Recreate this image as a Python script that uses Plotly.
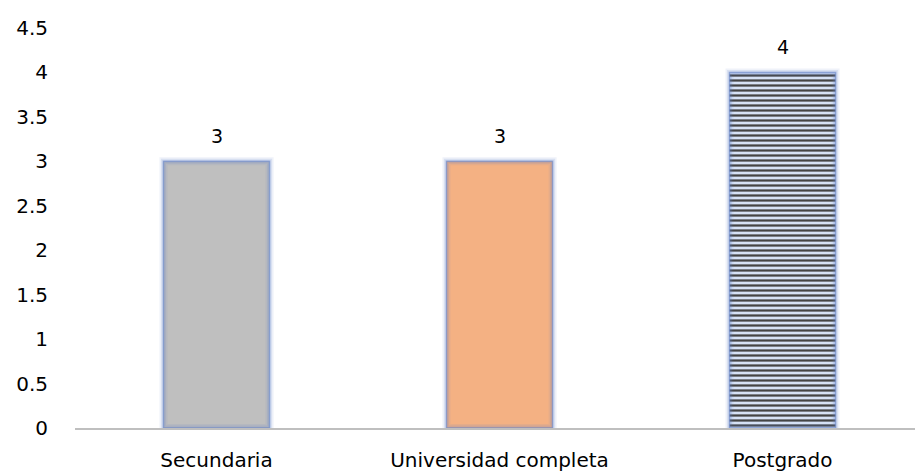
import plotly.graph_objects as go

categories = ["Secundaria", "Universidad completa", "Postgrado"]
values = [3, 3, 4]
bar_colors = ["#bfbfbf", "#f4b183", "#d6e1f5"]
pattern_shapes = ["", "", "-"]
stripe_colors = ["#3d6fd6", "#3d6fd6", "#3d6fd6"]
tick_vals = [0, 0.5, 1, 1.5, 2, 2.5, 3, 3.5, 4, 4.5]
tick_text = ["0", "0.5", "1", "1.5", "2", "2.5", "3", "3.5", "4", "4.5"]

FONT = "DejaVu Sans"
BAR_W = 0.375
fig = go.Figure()

# base bars with fill / stripe pattern
fig.add_trace(go.Bar(
    x=categories, y=values, width=BAR_W,
    marker=dict(
        color=bar_colors,
        line=dict(color="rgba(120,150,205,0.5)", width=1),
        pattern=dict(shape=pattern_shapes, fgcolor=stripe_colors,
                     fgopacity=1, size=5, solidity=0.45,
                     fillmode="overlay"),
    ),
    hoverinfo="skip",
))

# soft blue glow along the bar edges
for w, a in [(8, 0.10), (5, 0.16), (2, 0.35)]:
    fig.add_trace(go.Bar(
        x=categories, y=values, width=BAR_W,
        marker=dict(color="rgba(0,0,0,0)",
                    line=dict(color=f"rgba(100,130,200,{a})", width=w)),
        hoverinfo="skip",
    ))

# value labels above each bar
for c, v in zip(categories, values):
    fig.add_annotation(x=c, y=v, text=str(v), showarrow=False,
                       yanchor="bottom", yshift=12,
                       font=dict(family=FONT, size=19, color="#000000"))

fig.update_layout(
    width=915, height=473,
    margin=dict(l=75, r=0, t=28, b=45),
    paper_bgcolor="white", plot_bgcolor="white",
    barmode="overlay", showlegend=False,
    font=dict(family=FONT, size=20, color="#000000"),
)
fig.update_xaxes(
    range=[-0.5, 2.468], showgrid=False,
    showline=True, linecolor="#bfbfbf", linewidth=2,
    ticks="", ticklabelstandoff=13,
    tickfont=dict(family=FONT, size=20, color="#000000"),
)
fig.update_yaxes(
    range=[0, 4.5], tickvals=tick_vals, ticktext=tick_text,
    showgrid=False, zeroline=False, showline=False, ticks="",
    ticklabelstandoff=26,
    tickfont=dict(family=FONT, size=20, color="#000000"),
)

fig.write_html("out.html")
